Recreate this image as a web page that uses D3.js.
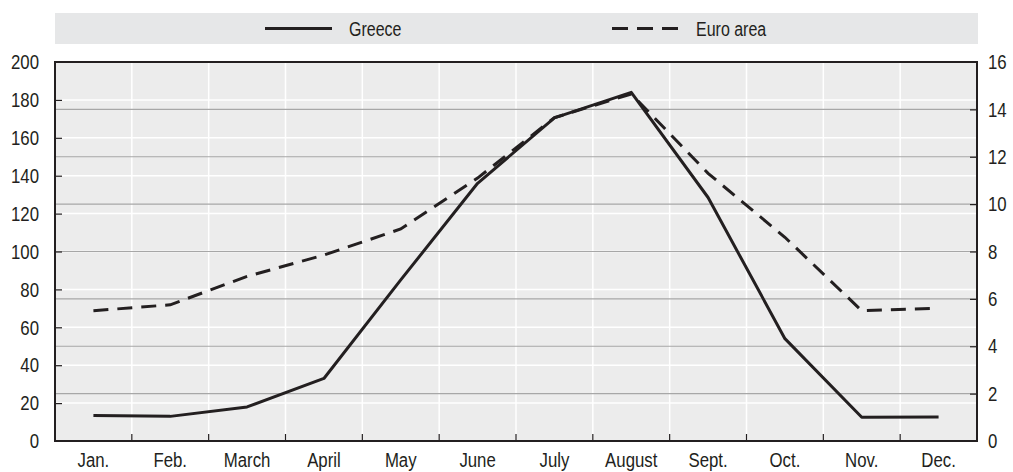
<!DOCTYPE html>
<html>
<head>
<meta charset="utf-8">
<script src="https://cdn.jsdelivr.net/npm/d3@7"></script>
<style>
  body { margin: 0; background: #fff; }
  text { font-family: "Liberation Sans", Arial, sans-serif; fill: #231f20; }
</style>
</head>
<body>
<div id="chart"></div>
<script>
const months = ["Jan.", "Feb.", "March", "April", "May", "June", "July", "August", "Sept.", "Oct.", "Nov.", "Dec."];
const greece = [13.5, 13, 18, 33, 85, 136, 170.5, 184, 128.5, 54, 12.5, 12.7];
const euroArea = [5.5, 5.75, 6.95, 7.85, 8.95, 11.1, 13.65, 14.65, 11.3, 8.6, 5.5, 5.6];
const leftTicks = [0, 20, 40, 60, 80, 100, 120, 140, 160, 180, 200];
const rightTicks = [0, 2, 4, 6, 8, 10, 12, 14, 16];

const W = 1013, H = 472;
const margin = { top: 62, right: 36, bottom: 31, left: 55 };
const width = W - margin.left - margin.right;
const height = H - margin.top - margin.bottom;
const ink = "#231f20";
const squeeze = 0.8; // condensed look for the labels
const fontSize = "21px";

const svgEl = d3.select("#chart").append("svg")
  .attr("width", W).attr("height", H);

// legend band
svgEl.append("rect")
  .attr("x", 55).attr("y", 13).attr("width", 923).attr("height", 31)
  .attr("fill", "#e6e7e8");

const legend = [
  { name: "Greece", x: 265, dash: null },
  { name: "Euro area", x: 612, dash: "16,9" }
];
legend.forEach(l => {
  svgEl.append("line")
    .attr("x1", l.x).attr("x2", l.x + 67)
    .attr("y1", 28.5).attr("y2", 28.5)
    .attr("stroke", ink).attr("stroke-width", 3)
    .attr("stroke-dasharray", l.dash);
  svgEl.append("text")
    .attr("transform", `translate(${l.x + 84},35.5) scale(0.82,1)`)
    .attr("font-size", "19.5px")
    .text(l.name);
});

const svg = svgEl.append("g")
  .attr("transform", `translate(${margin.left},${margin.top})`);

const x = d3.scaleBand().domain(months).range([0, width]);
const yL = d3.scaleLinear().domain([0, 200]).range([height, 0]);
const yR = d3.scaleLinear().domain([0, 16]).range([height, 0]);

svg.append("rect")
  .attr("width", width).attr("height", height)
  .attr("fill", "#ececec");

// white grid: left axis values and month boundaries
svg.append("g").selectAll("line")
  .data(leftTicks.slice(1, -1))
  .enter().append("line")
  .attr("x1", 0).attr("x2", width)
  .attr("y1", d => yL(d)).attr("y2", d => yL(d))
  .attr("stroke", "#fff").attr("stroke-width", 1.5);

svg.append("g").selectAll("line")
  .data(months.slice(1))
  .enter().append("line")
  .attr("x1", d => x(d)).attr("x2", d => x(d))
  .attr("y1", 0).attr("y2", height)
  .attr("stroke", "#fff").attr("stroke-width", 1.5);

// gray grid: right axis values
svg.append("g").selectAll("line")
  .data(rightTicks.slice(1, -1))
  .enter().append("line")
  .attr("x1", 0).attr("x2", width)
  .attr("y1", d => yR(d)).attr("y2", d => yR(d))
  .attr("stroke", "#a7a7a7").attr("stroke-width", 1.2);

// axes
const gl = svg.append("g")
  .call(d3.axisLeft(yL).tickValues(leftTicks).tickSize(-7).tickPadding(16));
const gr = svg.append("g")
  .attr("transform", `translate(${width},0)`)
  .call(d3.axisRight(yR).tickValues(rightTicks).tickSize(-7).tickPadding(11));
const gb = svg.append("g")
  .attr("transform", `translate(0,${height})`)
  .call(d3.axisBottom(x).tickSize(0).tickPadding(11.5));

[gl, gr, gb].forEach(g => {
  g.select(".domain").remove();
  g.selectAll("line").attr("stroke", ink).attr("stroke-width", 1.2);
  g.selectAll("text")
    .attr("font-size", fontSize).attr("fill", ink)
    .attr("font-family", '"Liberation Sans", Arial, sans-serif')
    .attr("x", function () { return +d3.select(this).attr("x") / squeeze; })
    .attr("transform", `scale(${squeeze},1)`);
});
gl.selectAll(".tick").filter(d => d === 0 || d === 200).select("line").remove();
gr.selectAll(".tick").filter(d => d === 0 || d === 16).select("line").remove();

// month boundary ticks on the bottom
svg.append("g").selectAll("line")
  .data(months.slice(1))
  .enter().append("line")
  .attr("x1", d => x(d)).attr("x2", d => x(d))
  .attr("y1", height).attr("y2", height - 7)
  .attr("stroke", ink).attr("stroke-width", 1.2);

// frame
svg.append("rect")
  .attr("width", width).attr("height", height)
  .attr("fill", "none").attr("stroke", ink).attr("stroke-width", 2);

const cx = (d, i) => x(months[i]) + x.bandwidth() / 2;

svg.append("path")
  .datum(euroArea)
  .attr("fill", "none").attr("stroke", ink).attr("stroke-width", 3)
  .attr("stroke-dasharray", "15,9")
  .attr("d", d3.line().x(cx).y(d => yR(d)));

svg.append("path")
  .datum(greece)
  .attr("fill", "none").attr("stroke", ink).attr("stroke-width", 3)
  .attr("stroke-linejoin", "round")
  .attr("d", d3.line().x(cx).y(d => yL(d)));
</script>
</body>
</html>
